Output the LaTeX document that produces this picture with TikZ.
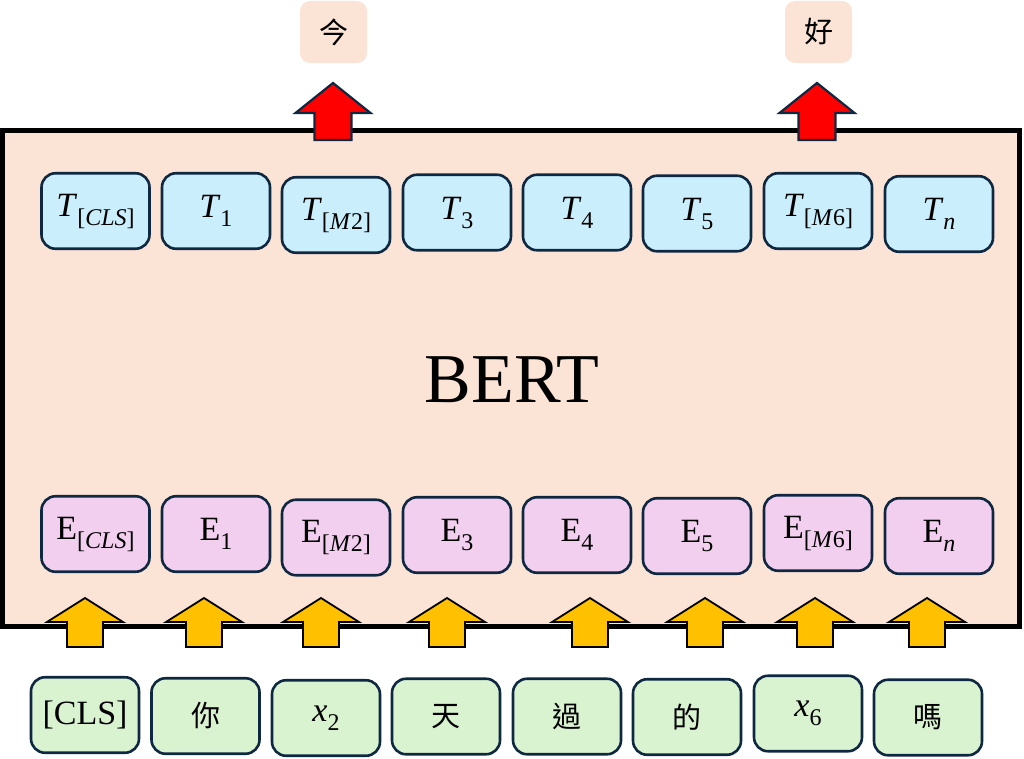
\documentclass[tikz,border=0pt]{standalone}
\usepackage{fontspec}
\setmainfont{Liberation Serif}
\newfontfamily\cjk{Noto Sans CJK TC}
\newcommand\lsub[1]{\raisebox{-9pt}{\fontsize{24}{28}\selectfont #1}}
\definecolor{bertcol}{HTML}{FBE3D6}
\definecolor{tcol}{HTML}{CAEEFB}
\definecolor{ecol}{HTML}{F2CEEF}
\definecolor{icol}{HTML}{D9F2D0}
\definecolor{bord}{HTML}{0E2841}
\definecolor{yel}{HTML}{FFC000}
\definecolor{redarr}{HTML}{FF0000}
\begin{document}
\begin{tikzpicture}[x=1pt,y=-1pt,
  box/.style={draw=bord, line width=2.6pt, rounded corners=14pt, minimum width=108pt, minimum height=75.5pt, inner sep=0pt, font=\fontsize{34}{40}\selectfont},
  tbox/.style={box, fill=tcol},
  ebox/.style={box, fill=ecol},
  ibox/.style={box, fill=icol},
  cjkfont/.style={font=\cjk\fontsize{29}{34}\selectfont},
  outbox/.style={fill=bertcol, rounded corners=10pt, minimum width=67pt, minimum height=62pt, inner sep=0pt, cjkfont},
  yarrow/.pic={\draw[pic actions] (0,0) -- (38,24) -- (18,24) -- (18,49) -- (-18,49) -- (-18,24) -- (-38,24) -- cycle;},
  rarrow/.pic={\draw[pic actions] (0,0) -- (37.5,30) -- (18.5,30) -- (18.5,57) -- (-18.5,57) -- (-18.5,30) -- (-37.5,30) -- cycle;}
]
\useasboundingbox (0,0) rectangle (1024,759);
% BERT box
\draw[line width=5pt, fill=bertcol] (2.5,130.5) rectangle (1019.5,626.5);
\node[font=\fontsize{70}{80}\selectfont] (bert) at (512,380) {BERT};
% T row
\node[tbox] (t0) at (95.5,211) {\textit{T}\lsub{[\textit{CLS}]}};
\node[tbox] (t1) at (216,211) {\textit{T}\lsub{1}};
\node[tbox] (t2) at (336,215) {\textit{T}\lsub{[\textit{M}2]}};
\node[tbox] (t3) at (457,212.5) {\textit{T}\lsub{3}};
\node[tbox] (t4) at (577,212.5) {\textit{T}\lsub{4}};
\node[tbox] (t5) at (697,213.5) {\textit{T}\lsub{5}};
\node[tbox] (t6) at (818,211) {\textit{T}\lsub{[\textit{M}6]}};
\node[tbox] (tn) at (939,214) {\textit{T}\lsub{\textit{n}}};
% E row
\node[ebox] (e0) at (95.5,534) {E\lsub{[\textit{CLS}]}};
\node[ebox] (e1) at (216,534) {E\lsub{1}};
\node[ebox] (e2) at (336,537.5) {E\lsub{[\textit{M}2]}};
\node[ebox] (e3) at (457,535) {E\lsub{3}};
\node[ebox] (e4) at (577,535) {E\lsub{4}};
\node[ebox] (e5) at (697,536) {E\lsub{5}};
\node[ebox] (e6) at (818,533) {E\lsub{[\textit{M}6]}};
\node[ebox] (en) at (939,536) {E\lsub{\textit{n}}};
% inputs
\node[ibox] (i0) at (85,715) {[CLS]};
\node[ibox, cjkfont] (i1) at (205.5,716) {你};
\node[ibox] (i2) at (326,718) {\textit{x}\lsub{2}};
\node[ibox, cjkfont] (i3) at (446,716.5) {天};
\node[ibox, cjkfont] (i4) at (567,716.5) {過};
\node[ibox, cjkfont] (i5) at (687,717) {的};
\node[ibox] (i6) at (808,713.5) {\textit{x}\lsub{6}};
\node[ibox, cjkfont] (i7) at (928,717.5) {嗎};
% yellow arrows
\foreach \x in {85,204,321,447,590,705,815,927}
  \pic[draw=black, fill=yel, line width=1.8pt, line join=miter] at (\x,598) {yarrow};
% red arrows
\pic[draw=bord, fill=redarr, line width=2.2pt, line join=miter] at (333,83) {rarrow};
\pic[draw=bord, fill=redarr, line width=2.2pt, line join=miter] at (817,83) {rarrow};
% outputs
\node[outbox] (o2) at (333.5,32) {今};
\node[outbox] (o6) at (818.5,32) {好};
\end{tikzpicture}
\end{document}
